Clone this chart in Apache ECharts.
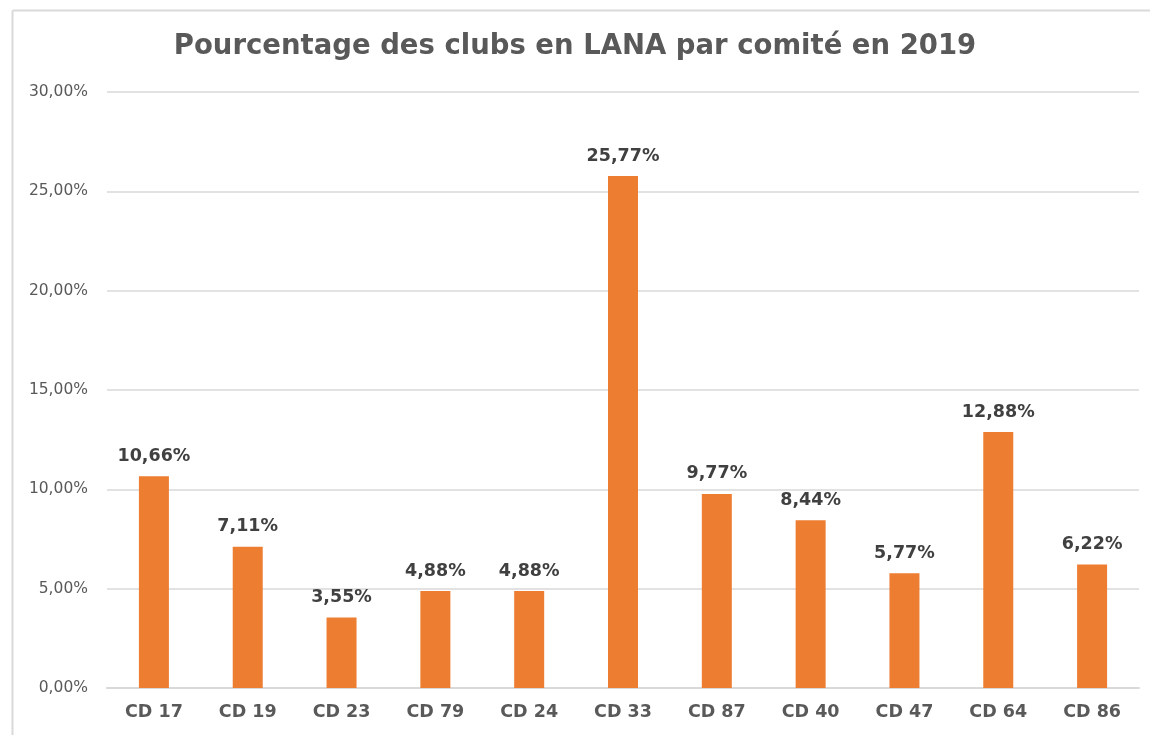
<!DOCTYPE html>
<html><head><meta charset="utf-8">
<script src="https://cdn.jsdelivr.net/npm/echarts@6/dist/echarts.min.js"></script>
<style>html,body{margin:0;padding:0;background:#fff;overflow:hidden;}#c{width:1150px;height:735px;}</style>
</head><body><div id="c"></div>
<script>
const categories = ['CD 17','CD 19','CD 23','CD 79','CD 24','CD 33','CD 87','CD 40','CD 47','CD 64','CD 86'];
const values = [10.66, 7.11, 3.55, 4.88, 4.88, 25.77, 9.77, 8.44, 5.77, 12.88, 6.22];
const titleText = 'Pourcentage des clubs en LANA par comité en 2019';
const fmt = v => v.toFixed(2).replace('.', ',') + '%';
const chart = echarts.init(document.getElementById('c'));
chart.setOption({
  animation: false,
  backgroundColor: '#fff',
  title: { text: titleText, left: 'center', top: 28,
    textStyle: { fontFamily: 'DejaVu Sans', fontWeight: 'bold', fontSize: 27.5, color: '#595959' } },
  graphic: [
    { type: 'line', shape: { x1: 12.5, y1: 10.5, x2: 1150, y2: 10.5 },
      style: { stroke: '#d9d9d9', lineWidth: 2 }, silent: true },
    { type: 'line', shape: { x1: 12.5, y1: 10.5, x2: 12.5, y2: 735 },
      style: { stroke: '#d9d9d9', lineWidth: 2 }, silent: true }
  ],
  grid: { left: 107, right: 11, top: 92, bottom: 47 },
  xAxis: { type: 'category', data: categories,
    axisLine: { lineStyle: { color: '#d9d9d9', width: 2 } }, axisTick: { show: false },
    axisLabel: { fontFamily: 'DejaVu Sans', fontWeight: 'bold', fontSize: 17.5, color: '#595959', margin: 15 } },
  yAxis: { type: 'value', min: 0, max: 30, interval: 5,
    axisLabel: { formatter: v => fmt(v), fontFamily: 'DejaVu Sans', fontSize: 15.5, color: '#595959', margin: 19 },
    splitLine: { lineStyle: { color: '#d9d9d9', width: 1.5 } } },
  series: [{ type: 'bar', data: values, barWidth: 30,
    itemStyle: { color: '#ED7D31' },
    label: { show: true, position: 'top', distance: 11, formatter: p => fmt(p.value),
      fontFamily: 'DejaVu Sans', fontWeight: 'bold', fontSize: 17.5, color: '#404040' } }]
});
</script></body></html>
